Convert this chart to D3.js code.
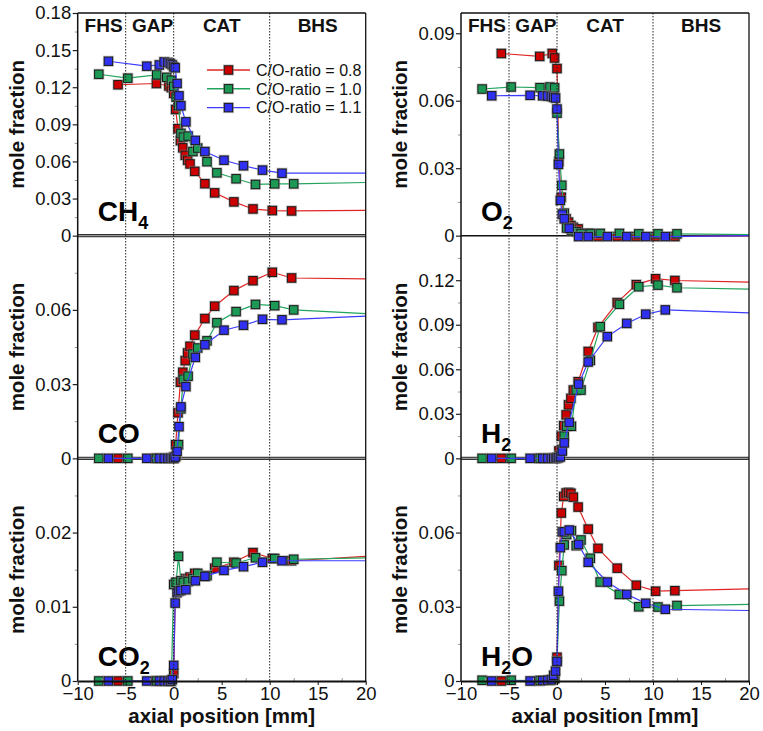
<!DOCTYPE html>
<html>
<head>
<meta charset="utf-8">
<script src="https://cdn.jsdelivr.net/npm/d3@7"></script>
<style>
  body { margin: 0; background: #fff; }
  svg { display: block; }
</style>
</head>
<body>
<script>
// axial positions [mm] of the sample points, one list per C/O ratio
var xRed   = [-5.8, -1.8, -0.5, -0.25, 0, 0.2, 0.45, 0.7, 0.95, 1.2, 1.45, 1.7, 2.2, 3.25, 4.27, 6.27, 8.26, 10.27, 12.28];
var xGreen = [-7.8, -4.78, -1.77, -0.73, -0.25, 0, 0.25, 0.5, 0.75, 1.0, 1.5, 2.0, 2.5, 3.47, 4.5, 6.5, 8.52, 10.52, 12.5];
var xBlue  = [-6.8, -2.8, -1.5, -1.0, -0.6, -0.35, -0.15, 0, 0.15, 0.35, 0.55, 0.75, 1.27, 2.25, 3.25, 5.24, 7.27, 9.25, 11.28];

var ratioLabels = ["C/O-ratio = 0.8", "C/O-ratio = 1.0", "C/O-ratio = 1.1"];
var sectionLabels = ["FHS", "GAP", "CAT", "BHS"];
var sectionPos = [-7.3, -2.2, 5, 15];
var boundaries = [-5, 0, 10];
var xTicks = [-10, -5, 0, 5, 10, 15, 20];

// mole fractions (red = 0.8, green = 1.0, blue = 1.1)
var ch4Red   = [0.122, 0.123, 0.121, 0.1197, 0.115, 0.102, 0.0865, 0.0768, 0.071, 0.065, 0.061, 0.058, 0.052, 0.042, 0.0346, 0.0273, 0.0216, 0.0203, 0.020];
var ch4Green = [0.1305, 0.1273, 0.130, 0.128, 0.1257, 0.1206, 0.112, 0.105, 0.0827, 0.0797, 0.0805, 0.068, 0.0708, 0.0598, 0.0508, 0.046, 0.0414, 0.0419, 0.0419];
var ch4Blue  = [0.141, 0.137, 0.138, 0.1405, 0.140, 0.139, 0.138, 0.1365, 0.1357, 0.123, 0.113, 0.105, 0.092, 0.077, 0.068, 0.061, 0.0565, 0.053, 0.0505];

var o2Red   = [0.081, 0.0797, 0.081, 0.079, 0.0743, 0.033, 0.0171, 0.0097, 0.0075, 0.006, 0.0045, 0.0037, 0.003, 0.001, -0.0004, -0.0004, -0.0004, -0.0004, -0.0004];
var o2Green = [0.0652, 0.0661, 0.0658, 0.0661, 0.0657, 0.0545, 0.0363, 0.0224, 0.01, 0.0034, 0.0025, 0.0018, 0.001, 0.001, 0.001, 0.001, 0.0008, 0.0008, 0.0008];
var o2Blue  = [0.0622, 0.0624, 0.0622, 0.0621, 0.0619, 0.0615, 0.0612, 0.0563, 0.0317, 0.0157, 0.0095, 0.0075, 0.0033, -0.0004, -0.0004, -0.0004, -0.0004, -0.0004, -0.0004];

var coRed   = [0, 0, 0, 0, 0.0005, 0.0055, 0.0184, 0.0308, 0.0348, 0.0395, 0.0426, 0.0453, 0.0498, 0.0565, 0.0615, 0.0678, 0.0718, 0.0752, 0.0729];
var coGreen = [0, 0, 0, 0, 0, 0, 0.001, 0.0055, 0.02, 0.032, 0.0332, 0.0422, 0.0446, 0.0475, 0.0548, 0.0593, 0.0622, 0.0617, 0.060];
var coBlue  = [0, 0, 0, 0, 0, 0, 0, 0, 0.0005, 0.0028, 0.0128, 0.0208, 0.029, 0.0408, 0.0459, 0.0518, 0.0538, 0.0562, 0.056];

var h2Red   = [0, 0, 0, 0, 0.0005, 0.005, 0.0149, 0.022, 0.0293, 0.036, 0.0404, 0.046, 0.0516, 0.072, 0.0882, 0.1049, 0.117, 0.121, 0.1198];
var h2Green = [0, 0, 0, 0, 0, 0.0005, 0.0016, 0.006, 0.015, 0.0216, 0.0216, 0.046, 0.046, 0.066, 0.0887, 0.1038, 0.1156, 0.1167, 0.1149];
var h2Blue  = [0, 0, 0, 0, 0, 0, 0, 0.0003, 0.0005, 0.001, 0.0049, 0.0104, 0.0242, 0.05, 0.0649, 0.082, 0.0909, 0.0971, 0.1];

var co2Red   = [0, 0, 0, 0, 0.001, 0.0132, 0.0128, 0.0133, 0.0134, 0.0138, 0.0137, 0.014, 0.0145, 0.0141, 0.0152, 0.016, 0.0173, 0.0165, 0.0162];
var co2Green = [0, 0, 0, 0, 0, 0.013, 0.0133, 0.0168, 0.0135, 0.0133, 0.0134, 0.0138, 0.0145, 0.0142, 0.016, 0.0159, 0.0166, 0.0165, 0.0164];
var co2Blue  = [0, 0, 0, 0, 0, 0, 0.0002, 0.0021, 0.0105, 0.0119, 0.0121, 0.0122, 0.0123, 0.0135, 0.0141, 0.0149, 0.0154, 0.016, 0.0162];

var h2oRed   = [0, 0, 0.0005, 0.001, 0.0096, 0.0467, 0.0679, 0.0746, 0.076, 0.0762, 0.0759, 0.0743, 0.0703, 0.0614, 0.0536, 0.0456, 0.0387, 0.0363, 0.0365];
var h2oGreen = [0.0003, 0.0003, 0.0002, 0.0003, 0.001, 0.008, 0.0323, 0.0446, 0.055, 0.0592, 0.0607, 0.0547, 0.057, 0.0496, 0.040, 0.035, 0.030, 0.0299, 0.0305];
var h2oBlue  = [0, 0, 0.0002, 0.0003, 0.0005, 0.0023, 0.004, 0.0079, 0.0363, 0.0539, 0.0603, 0.0603, 0.061, 0.0552, 0.048, 0.040, 0.035, 0.0314, 0.029];

// value where each line leaves the plot at x = 20 mm (red, green, blue)
var tailCH4 = [0.0205, 0.043, 0.0505];
var tailO2  = [0, 0.0005, 0];
var tailCO  = [0.0725, 0.0585, 0.0575];
var tailH2  = [0.1187, 0.114, 0.098];
var tailCO2 = [0.0168, 0.0166, 0.0162];
var tailH2O = [0.0372, 0.031, 0.0285];


/**
 * Layout and style
 */
var W = 763, H = 731;
var colLeft = [77.7, 461];
var plotW = 288;
var rowTop = [13, 235.67, 458.33];
var plotH = 222.67;
var fontFamily = "'Liberation Sans', Arial, sans-serif";
var tickFont = "18.5px";
var lineColors = ["#e02424", "#22a45e", "#3b3bff"];
var fillColors = ["#cc0000", "#1c9a55", "#3030f0"];
var xPositions = [xRed, xGreen, xBlue];

var panels = [
    {col: 0, row: 0, max: 0.18,  step: 0.03, series: [ch4Red, ch4Green, ch4Blue], tail: tailCH4, label: [["CH", 0], ["4", 1]], zero: "double", legend: true},
    {col: 0, row: 1, max: 0.09,  step: 0.03, series: [coRed, coGreen, coBlue],    tail: tailCO,  label: [["CO", 0]], zero: "double"},
    {col: 0, row: 2, max: 0.03,  step: 0.01, series: [co2Red, co2Green, co2Blue], tail: tailCO2, label: [["CO", 0], ["2", 1]], zero: "axis"},
    {col: 1, row: 0, max: 0.099, step: 0.03, series: [o2Red, o2Green, o2Blue],    tail: tailO2,  label: [["O", 0], ["2", 1]], zero: "single"},
    {col: 1, row: 1, max: 0.15,  step: 0.03, series: [h2Red, h2Green, h2Blue],    tail: tailH2,  label: [["H", 0], ["2", 1]], zero: "double"},
    {col: 1, row: 2, max: 0.09,  step: 0.03, series: [h2oRed, h2oGreen, h2oBlue], tail: tailH2O, label: [["H", 0], ["2", 1], ["O", 2]], zero: "axis"}
];

var svg = d3.select("body").append("svg")
    .attr("width", W)
    .attr("height", H)
    .style("font-family", fontFamily);

var xScales = colLeft.map(function (l) {
    return d3.scaleLinear().domain([-10, 20]).range([l, l + plotW]);
});

var fmt = function (d) { return d === 0 ? "0" : d3.format(".2f")(d); };

/**
 * Draw one panel
 */
function drawPanel(p) {
    var x = xScales[p.col];
    var top = rowTop[p.row];
    var bottom = top + plotH;
    var y = d3.scaleLinear().domain([0, p.max]).range([bottom, top]);
    var g = svg.append("g");

    // y ticks, major with labels and minor half steps
    var eps = 1e-9;
    var limit = p.row === 0 ? p.max + eps : p.max - eps;
    var major = d3.range(0, limit, p.step).filter(function (d) { return d < limit; });
    var minor = major.map(function (d) { return d + p.step / 2; })
        .filter(function (d) { return d < p.max - eps; });

    var minorAxis = g.append("g")
        .attr("transform", "translate(" + colLeft[p.col] + ",0)")
        .call(d3.axisLeft(y).tickValues(minor).tickSize(3).tickFormat(""));
    minorAxis.select(".domain").remove();
    minorAxis.selectAll("line").attr("stroke", "#999");

    var majorAxis = g.append("g")
        .attr("transform", "translate(" + colLeft[p.col] + ",0)")
        .call(d3.axisLeft(y).tickValues(major).tickSize(5).tickPadding(1.5).tickFormat(fmt));
    majorAxis.select(".domain").remove();
    majorAxis.selectAll("line").attr("stroke", "#222").attr("stroke-width", 1.2);
    majorAxis.selectAll("text")
        .attr("font-size", tickFont)
        .attr("font-family", fontFamily)
        .attr("fill", "#111");

    // zero line
    if (p.zero === "double") {
        g.append("line")
            .attr("x1", x(-10)).attr("x2", x(20))
            .attr("y1", y(0)).attr("y2", y(0))
            .attr("stroke", "#333").attr("stroke-width", 3.2);
        g.append("line")
            .attr("x1", x(-10)).attr("x2", x(20))
            .attr("y1", y(0)).attr("y2", y(0))
            .attr("stroke", "#aaa").attr("stroke-width", 1);
    } else if (p.zero === "single") {
        g.append("line")
            .attr("x1", x(-10)).attr("x2", x(20))
            .attr("y1", y(0)).attr("y2", y(0))
            .attr("stroke", "#111").attr("stroke-width", 1.5);
    }

    // y title
    g.append("text")
        .attr("transform", "translate(" + (colLeft[p.col] - 54) + "," + ((top + bottom) / 2) + ") rotate(-90)")
        .attr("text-anchor", "middle")
        .attr("font-size", "20.5px")
        .attr("font-weight", "bold")
        .attr("fill", "#111")
        .text("mole fraction");

    // species name with subscripts
    var lab = g.append("text")
        .attr("x", colLeft[p.col] + 20)
        .attr("y", bottom - 15)
        .attr("font-weight", "bold")
        .attr("font-size", "28px")
        .attr("fill", "#000");
    var shift = 0;
    p.label.forEach(function (part) {
        var t = lab.append("tspan").text(part[0]);
        if (part[1] === 1) {
            t.attr("font-size", "18px").attr("dy", 8);
            shift = 8;
        } else if (shift) {
            t.attr("dy", -shift);
            shift = 0;
        }
    });

    // series: line (with tail to 20 mm) then markers
    var line = d3.line()
        .x(function (d) { return x(d[0]); })
        .y(function (d) { return y(d[1]); });

    p.series.forEach(function (vals, i) {
        var pts = vals.map(function (v, j) { return [xPositions[i][j], v]; });
        var path = pts.concat([[20, p.tail[i]]]);
        g.append("path")
            .attr("d", line(path))
            .attr("fill", "none")
            .attr("stroke", lineColors[i])
            .attr("stroke-width", 1.2);

        var m = g.append("g").selectAll("g")
            .data(pts)
            .enter()
            .append("g")
            .attr("transform", function (d) { return "translate(" + x(d[0]) + "," + y(d[1]) + ")"; });
        m.append("rect")
            .attr("x", -5.5).attr("y", -5.5)
            .attr("width", 11).attr("height", 11)
            .attr("fill", "#888").attr("opacity", 0.55);
        m.append("rect")
            .attr("x", -4.2).attr("y", -4.2)
            .attr("width", 8.4).attr("height", 8.4)
            .attr("fill", fillColors[i])
            .attr("stroke", "#1a1a1a")
            .attr("stroke-width", 1);
    });

    // legend
    if (p.legend) {
        ratioLabels.forEach(function (name, i) {
            var ly = 70 + i * 18.8;
            var lx = 207;
            g.append("line")
                .attr("x1", lx).attr("x2", lx + 43)
                .attr("y1", ly).attr("y2", ly)
                .attr("stroke", lineColors[i]).attr("stroke-width", 1.4);
            g.append("rect")
                .attr("x", lx + 21.5 - 5.5).attr("y", ly - 5.5)
                .attr("width", 11).attr("height", 11)
                .attr("fill", "#888").attr("opacity", 0.55);
            g.append("rect")
                .attr("x", lx + 21.5 - 4.2).attr("y", ly - 4.2)
                .attr("width", 8.4).attr("height", 8.4)
                .attr("fill", fillColors[i])
                .attr("stroke", "#1a1a1a");
            g.append("text")
                .attr("x", lx + 49)
                .attr("y", ly)
                .attr("dy", "0.36em")
                .attr("font-size", "16px")
                .attr("fill", "#111")
                .text(name);
        });
    }

    // section names
    if (p.row === 0) {
        sectionLabels.forEach(function (s, i) {
            g.append("text")
                .attr("x", x(sectionPos[i]))
                .attr("y", top + 18.5)
                .attr("text-anchor", "middle")
                .attr("font-weight", "bold")
                .attr("font-size", "19px")
                .attr("fill", "#111")
                .text(s);
        });
    }
}

/**
 * Frames, boundaries and x axes for each column
 */
function drawColumn(c) {
    var x = xScales[c];
    var top = rowTop[0];
    var bottom = rowTop[2] + plotH;
    var g = svg.append("g");

    g.selectAll(".bound")
        .data(boundaries)
        .enter()
        .append("line")
        .attr("x1", function (d) { return x(d); })
        .attr("x2", function (d) { return x(d); })
        .attr("y1", top).attr("y2", bottom)
        .attr("stroke", "#222")
        .attr("stroke-width", 1)
        .attr("stroke-dasharray", "1.5,1.5");

    // frame
    g.append("line")
        .attr("x1", x(-10)).attr("x2", x(-10))
        .attr("y1", top).attr("y2", bottom)
        .attr("stroke", "#111").attr("stroke-width", 1.5);
    g.append("line")
        .attr("x1", x(20)).attr("x2", x(20))
        .attr("y1", top).attr("y2", bottom)
        .attr("stroke", "#111").attr("stroke-width", 1.3);
    g.append("line")
        .attr("x1", x(-10)).attr("x2", x(20))
        .attr("y1", top).attr("y2", top)
        .attr("stroke", "#111").attr("stroke-width", 1.3);

    // x axis
    var minorX = d3.range(-7.5, 20, 5);
    var mx = g.append("g")
        .attr("transform", "translate(0," + bottom + ")")
        .call(d3.axisBottom(x).tickValues(minorX).tickSize(-3).tickFormat(""));
    mx.select(".domain").remove();
    mx.selectAll("line").attr("stroke", "#999");

    var ax = g.append("g")
        .attr("transform", "translate(0," + bottom + ")")
        .call(d3.axisBottom(x).tickValues(xTicks).tickSize(4).tickPadding(2).tickSizeOuter(0));
    ax.select(".domain").attr("stroke", "#111").attr("stroke-width", 1.8);
    ax.selectAll("line").attr("stroke", "#111");
    ax.selectAll("text")
        .attr("font-size", tickFont)
        .attr("font-family", fontFamily)
        .attr("fill", "#111");

    g.append("text")
        .attr("x", x(5))
        .attr("y", bottom + 42)
        .attr("text-anchor", "middle")
        .attr("font-weight", "bold")
        .attr("font-size", "20.5px")
        .attr("fill", "#111")
        .text("axial position [mm]");
}

panels.forEach(drawPanel);
drawColumn(0);
drawColumn(1);
</script>
</body>
</html>
